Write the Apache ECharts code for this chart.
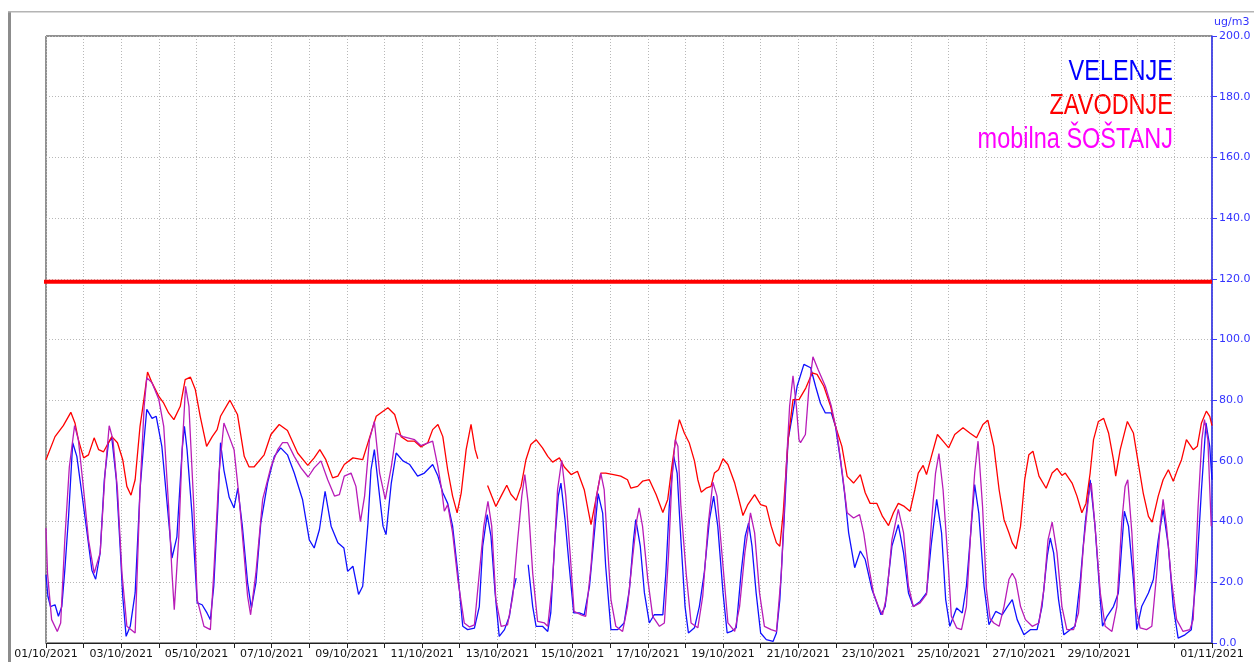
<!DOCTYPE html>
<html>
<head>
<meta charset="utf-8">
<script src="https://cdn.jsdelivr.net/npm/echarts@6/dist/echarts.min.js"></script>
<style>
html,body{margin:0;padding:0;background:#fff;}
#chart{width:1254px;height:662px;}
</style>
</head>
<body>
<div id="chart"></div>
<script>
// x = days since 01/10/2021 00:00, y = ug/m3
const velenje = [[0,22.5],[0.05,15.4],[0.12,12],[0.24,12.6],[0.33,8.8],[0.42,12],[0.5,24],[0.6,41.7],[0.71,66],[0.82,61.5],[0.95,49.5],[1.08,37.4],[1.22,24],[1.32,21],[1.44,29.7],[1.55,53.8],[1.66,66],[1.75,67.6],[1.87,53.8],[1.97,31.9],[2.04,15.4],[2.13,2.2],[2.24,5.5],[2.37,16.5],[2.5,50.5],[2.6,66],[2.68,77],[2.82,74],[2.93,74.7],[3.08,64.8],[3.22,46],[3.35,28],[3.48,35],[3.62,63.7],[3.68,71.4],[3.75,63.7],[3.88,42.8],[4.02,13.2],[4.15,12.6],[4.28,9.9],[4.37,7.7],[4.46,18.7],[4.57,45],
[4.64,66],[4.73,57],[4.87,48],[5.0,44.5],[5.1,51],[5.22,38.5],[5.36,19.8],[5.46,11.5],[5.58,19.8],[5.71,39.5],[5.89,52.7],[6.07,61.5],[6.24,64.3],[6.42,62],[6.6,56],[6.82,47.3],[7.0,34],[7.13,31.3],[7.27,37.4],[7.42,50],[7.58,38.5],[7.76,33],[7.92,31.3],[8.02,23.6],[8.16,25.3],[8.31,16],[8.42,18.7],[8.56,39.5],[8.64,57],[8.73,63.7],[8.82,53.8],[8.96,38.5],[9.04,35.7],[9.18,52.7],[9.31,62.6],[9.49,60],[9.67,58.8],
[9.88,55],[10.06,56],[10.28,58.8],[10.42,55],[10.55,49.5],[10.68,46],[10.81,38.5],[10.95,23],[11.08,5.5],[11.21,4.4],[11.39,4.9],[11.52,12],[11.61,31.9],[11.73,42.3],[11.83,35.2],[11.94,16.5],[12.05,2.2],[12.19,4.4],[12.32,8.8],[12.41,16.5],[12.5,21.4],[12.66,null],[12.82,25.8],[12.94,12],[13.03,5.5],[13.2,5.5],[13.34,3.8],[13.42,9.9],[13.53,34],[13.62,48.4],[13.69,52.7],[13.8,40.6],[13.91,25.3],[14.03,9.9],[14.18,9.9],[14.31,9.3],[14.45,18.7],[14.58,36.3],[14.68,49.2],[14.8,42.8],
[14.88,25.3],[15.02,4.4],[15.2,4.4],[15.37,6.6],[15.51,17.6],[15.62,34],[15.68,40.7],[15.8,31.9],[15.91,16.5],[16.04,6.6],[16.17,9.3],[16.4,9.3],[16.48,23],[16.57,45],[16.69,61.5],[16.78,56],[16.88,34],[16.99,12],[17.08,3.3],[17.24,5],[17.37,12],[17.5,23],[17.64,40.7],[17.75,48.4],[17.86,38.5],[18.0,16.5],[18.11,3.3],[18.22,3.8],[18.35,5],[18.48,23],[18.59,35.2],[18.68,39.6],[18.77,31.9],[18.88,16.5],[19.0,3.3],[19.15,1.1],[19.33,0.5],[19.42,3.3],[19.51,14.3],[19.62,39.6],[19.73,67],
[19.84,74.7],[19.97,84.6],[20.15,91.8],[20.33,90.7],[20.46,84.6],[20.59,79],[20.72,75.8],[20.88,75.8],[20.99,71.4],[21.12,60.4],[21.23,49.5],[21.34,36.3],[21.5,24.8],[21.65,30.3],[21.78,27.5],[21.96,17.6],[22.09,13.2],[22.2,9.3],[22.31,12],[22.49,31.9],[22.66,39],[22.8,29.7],[22.93,16.5],[23.06,12],[23.24,13.7],[23.41,16.5],[23.53,31.9],[23.68,47.3],[23.81,36.3],[23.92,14.3],[24.03,5.5],[24.21,11.5],[24.36,9.9],[24.47,18.7],[24.6,38.5],[24.69,52.2],[24.8,42.8],[24.94,18.7],
[25.07,6],[25.25,10.4],[25.42,9.3],[25.56,12],[25.69,14.3],[25.82,7.7],[26.0,2.7],[26.17,4.4],[26.35,4.4],[26.48,12],[26.62,28.6],[26.7,34.6],[26.79,29.7],[26.92,14.3],[27.06,2.7],[27.23,4.4],[27.36,5.5],[27.5,20.9],[27.63,39.6],[27.76,53.8],[27.89,38.5],[28.03,14.3],[28.09,5.5],[28.21,8.8],[28.38,12],[28.51,16.5],[28.6,31.9],[28.67,43.4],[28.78,38.5],[28.91,20.9],[29.0,4.4],[29.13,12],[29.31,16.5],[29.44,20.9],[29.57,34],[29.7,44],[29.84,31.9],[29.97,12],[30.1,1.6],[30.28,2.7],[30.45,4.4],[30.59,23],[30.72,50.5],[30.84,72.5],[30.94,64.8],[31.0,53.8]];

const zavodnje = [[0,60.4],[0.24,68],[0.46,71.6],[0.66,76],[0.77,72.5],[0.86,67],[1.0,61],[1.13,62],[1.28,67.6],[1.4,63.7],[1.53,63],[1.75,68],[1.9,66],[2.04,60.4],[2.15,51.6],[2.26,48.7],[2.37,53.8],[2.5,71.4],[2.6,80],[2.7,89.3],[2.82,85.7],[3.0,81.3],[3.13,79],[3.26,75.8],[3.4,73.6],[3.57,78],[3.7,86.8],[3.84,87.6],[3.97,83.5],[4.1,74.7],[4.27,64.8],[4.42,68],[4.55,70.3],
[4.64,74.7],[4.89,80],[5.09,75.3],[5.27,61.5],[5.4,58],[5.53,58],[5.8,62],[5.98,68.7],[6.2,72],[6.42,70],[6.69,62.6],[6.96,58.5],[7.13,61],[7.28,63.7],[7.44,60.4],[7.62,54.4],[7.76,55],[7.93,58.8],[8.16,61],[8.42,60.4],[8.6,67.6],[8.78,74.7],[9.09,77.5],[9.27,75.3],[9.44,68],[9.62,66.5],[9.8,66.5],
[9.97,64.6],[10.15,66],[10.28,70.3],[10.42,72],[10.55,68],[10.68,57],[10.81,48.4],[10.93,42.9],[11.04,49.5],[11.17,63.7],[11.3,72],[11.41,63.7],[11.48,60.7],[11.6,null],[11.74,51.9],[11.85,48.4],[11.96,45],[12.1,48.4],[12.25,52],[12.36,49],[12.5,47],[12.63,51.6],[12.76,60.4],[12.89,65.4],[13.03,67],[13.2,64.3],[13.34,61.5],[13.47,59.6],[13.65,61],[13.78,58],[13.96,55.5],[14.13,56.6],[14.31,50.5],[14.49,39],[14.62,47.3],[14.75,56],[14.88,56],
[15.09,55.5],[15.28,55],[15.46,53.8],[15.55,51],[15.73,51.6],[15.86,53.3],[16.04,53.8],[16.22,48.9],[16.4,43],[16.53,47.3],[16.64,58.2],[16.75,68],[16.84,73.6],[16.97,69.2],[17.1,66],[17.24,60],[17.33,53.8],[17.42,49.7],[17.55,51],[17.68,51.6],[17.77,56],[17.88,57.1],[18.0,60.7],[18.13,58.8],[18.31,52.7],[18.4,48.4],[18.53,42],[18.66,45.6],[18.84,48.9],[19.0,45.6],[19.15,45],[19.28,38.5],[19.42,33],[19.51,31.9],[19.6,42.9],[19.73,67],[19.86,80.2],
[20.02,80.2],[20.2,84],[20.37,89],[20.5,88.5],[20.68,84.6],[20.86,78],[20.99,71.4],[21.16,64.8],[21.3,54.9],[21.47,52.7],[21.65,55.5],[21.78,49.5],[21.91,46],[22.09,46],[22.24,41.7],[22.4,38.7],[22.53,42.9],[22.66,46],[22.82,45],[22.97,43.4],[23.1,50.5],[23.19,56],[23.32,58.5],[23.41,55.5],[23.54,61.5],[23.7,68.7],[23.85,66.5],[24.0,64.3],[24.16,68.7],[24.38,70.9],[24.56,69.2],[24.74,67.6],[24.91,72],[25.04,73.4],
[25.2,64.8],[25.34,50.5],[25.47,40.7],[25.6,36.3],[25.69,33],[25.79,31],[25.91,38.5],[26.02,53.8],[26.13,62],[26.24,63.2],[26.4,55],[26.59,51],[26.75,56],[26.88,57.5],[27.01,55.2],[27.1,56],[27.28,52.7],[27.41,48.4],[27.54,42.9],[27.65,46],[27.76,56],[27.85,67],[27.98,73],[28.12,74],[28.25,69.2],[28.38,60.4],[28.44,55],[28.56,63.7],[28.75,73],[28.91,69.2],[29.04,59.3],[29.17,49.5],[29.31,41.7],[29.41,39.8],[29.57,48.4],[29.7,53.8],[29.84,57.1],[29.97,53.3],[30.1,57.7],[30.19,60.4],[30.32,67],[30.5,63.7],[30.61,64.8],[30.72,72.5],[30.85,76.4],[30.94,74.7],[31.0,71.6]];

const mobilna = [[0,37.9],[0.04,23],[0.15,7.7],[0.3,3.8],[0.39,6.6],[0.5,34],[0.62,58],[0.76,71.6],[0.86,67],[1.0,50.5],[1.13,34],[1.28,23],[1.44,29.7],[1.57,56],[1.68,71.6],[1.78,67],[1.9,50.5],[2.02,23],[2.15,5.5],[2.37,3.3],[2.5,50.5],[2.61,78],[2.68,87.4],[2.82,85.7],[3.0,80.2],[3.13,71.4],[3.26,45],[3.35,23],[3.41,11],[3.53,35],[3.62,63.7],[3.71,84.6],[3.8,78],[3.93,45],[4.02,14.3],[4.2,5.5],[4.37,4.4],[4.46,23],[4.6,56],
[4.73,72.5],[4.87,68],[5.0,63.7],[5.13,48.4],[5.27,28.6],[5.36,15.4],[5.44,9.3],[5.58,23],[5.76,47.3],[5.98,58],[6.16,63.7],[6.29,66],[6.42,66],[6.6,61.5],[6.78,57.7],[6.97,54.7],[7.13,57.7],[7.31,60],[7.49,53.8],[7.67,48.4],[7.8,48.9],[7.93,55],[8.11,56],[8.24,51.6],[8.36,40],[8.47,48.4],[8.6,67],[8.73,73],[8.87,56],[9.02,47.3],[9.18,58],[9.31,69.2],[9.49,68],[9.8,67],
[9.97,65],[10.28,66.5],[10.42,58],[10.52,50.5],[10.59,43.4],[10.68,45.6],[10.81,36.3],[10.95,20.9],[11.12,6.6],[11.26,5.3],[11.39,6],[11.52,23],[11.64,38.5],[11.75,46.7],[11.85,38.5],[11.96,14.3],[12.1,5.5],[12.27,6],[12.41,15.4],[12.54,34],[12.65,48.4],[12.73,55.5],[12.82,46],[12.94,23],[13.07,7.1],[13.25,6.6],[13.34,5.5],[13.47,20.9],[13.6,50.5],[13.71,60.2],[13.82,48.4],[13.94,28.6],[14.04,10.4],[14.22,9.3],[14.35,8.8],[14.49,25.3],[14.62,47.3],[14.75,56],[14.84,50.5],[14.93,31.9],[15.02,14.3],
[15.15,5.5],[15.33,3.8],[15.46,12],[15.6,28.6],[15.71,40.7],[15.77,44.5],[15.86,38.5],[16.0,20.9],[16.13,8.8],[16.31,5.5],[16.44,6.6],[16.55,28.6],[16.64,53.8],[16.73,67],[16.8,64.8],[16.88,45],[17.02,23],[17.15,6.6],[17.33,5],[17.46,15.4],[17.6,38.5],[17.73,53],[17.84,48.4],[18.0,25.3],[18.13,6.6],[18.31,3.8],[18.44,12],[18.58,29.7],[18.73,42.9],[18.84,36.3],[18.97,16.5],[19.1,5.5],[19.28,4.4],[19.42,3.8],[19.55,23],[19.68,58],[19.77,78],[19.86,88],[19.95,78],[20.02,67],[20.06,66],
[20.19,68.7],[20.28,83.5],[20.39,94.3],[20.53,90],[20.72,84.6],[20.88,78],[21.03,69.2],[21.16,57.1],[21.3,42.9],[21.47,41.2],[21.63,42.3],[21.74,36.3],[21.87,25.3],[22.0,16.5],[22.13,12],[22.24,9.3],[22.35,15.4],[22.49,34],[22.66,44],[22.8,36.3],[22.93,18.7],[23.06,12],[23.24,13.2],[23.41,16],[23.54,39.6],[23.65,56],[23.74,62.4],[23.85,50.5],[23.99,25.3],[24.07,8.8],[24.21,5],[24.34,4.4],[24.47,12],[24.6,39.6],[24.69,56],[24.78,66.5],[24.9,45],[25.0,18],[25.1,8],
[25.2,6.6],[25.34,5.5],[25.47,12],[25.6,20.9],[25.69,23],[25.78,20.9],[25.91,12],[26.04,7.7],[26.22,5.5],[26.4,6.6],[26.53,17.6],[26.64,34],[26.75,39.8],[26.88,29.7],[27.01,12],[27.14,4.4],[27.32,4.4],[27.45,9.9],[27.58,31.9],[27.72,48.4],[27.79,52.7],[27.89,38.5],[28.03,16.5],[28.16,5.5],[28.34,3.8],[28.47,12],[28.6,39.6],[28.69,51.6],[28.76,53.8],[28.87,36.3],[28.97,12],[29.09,5],[29.26,4.4],[29.4,5.5],[29.53,23],[29.62,38.5],[29.7,47.3],[29.79,38.5],[29.92,20.9],[30.06,7.7],[30.23,3.8],[30.41,4.4],[30.5,7.7],[30.63,45],[30.73,67],[30.8,73.6],[30.89,67],[30.98,38.5]];

const thresholdValue = 119;
const thresholdDays = [-0.24, 31];
const seriesNames = ['VELENJE', 'ZAVODNJE', 'mobilna ŠOŠTANJ'];
const seriesColors = ['#1010ff', '#ff0000', '#b81cb8'];
const legendColors = ['#0000ff', '#ff0000', '#ff00ff'];
const unitLabel = 'ug/m3';
const startDate = [2021, 9, 1];
const lastDay = 31;

function pad(n){ return (n < 10 ? '0' : '') + n; }
function dayLabel(d){
  const dt = new Date(startDate[0], startDate[1], startDate[2] + d);
  return pad(dt.getDate()) + '/' + pad(dt.getMonth() + 1) + '/' + dt.getFullYear();
}

const chart = echarts.init(document.getElementById('chart'), null, {renderer: 'canvas'});
const font = '"DejaVu Sans", Verdana, sans-serif';
const legendFont = '29px "Liberation Sans", Arial, sans-serif';

chart.setOption({
  animation: false,
  backgroundColor: '#ffffff',
  grid: {left: 46, right: 42, top: 36, bottom: 19, show: true, borderColor: '#222', borderWidth: 1, backgroundColor: 'transparent'},
  xAxis: {
    type: 'value', min: 0, max: lastDay, interval: 1,
    axisLine: {show: true, onZero: false, lineStyle: {color: '#222', width: 1}},
    axisTick: {show: true, length: 5, lineStyle: {color: '#222'}},
    axisLabel: {
      color: '#111', fontFamily: font, fontSize: 11, margin: 6,
      showMinLabel: true, showMaxLabel: true, hideOverlap: false,
      formatter: function(v){
        const d = Math.round(v);
        if ((d % 2 === 0 && d <= 28) || d === lastDay) return dayLabel(d);
        return '';
      }
    },
    splitLine: {show: true, lineStyle: {color: '#b8b8b8', type: [1, 2], width: 1}}
  },
  yAxis: {
    type: 'value', position: 'right', min: 0, max: 200, interval: 20,
    name: unitLabel, nameLocation: 'end', nameGap: 8,
    nameTextStyle: {color: '#3333ff', fontFamily: font, fontSize: 11, align: 'left', padding: [0, 0, 0, 2]},
    axisLine: {show: true, onZero: false, lineStyle: {color: '#3a3aff', width: 1.5}},
    axisTick: {show: true, length: 5, lineStyle: {color: '#3a3aff'}},
    axisLabel: {color: '#3333ff', fontFamily: font, fontSize: 11, margin: 7,
      formatter: function(v){ return v.toFixed(1); }},
    splitLine: {show: true, lineStyle: {color: '#b8b8b8', type: [1, 2], width: 1}}
  },
  graphic: [
    {type: 'rect', shape: {x: 8, y: 11, width: 3, height: 651}, style: {fill: '#8c8c8c'}, silent: true},
    {type: 'rect', shape: {x: 8, y: 11, width: 1246, height: 1.5}, style: {fill: '#b4b4b4'}, silent: true},
    {type: 'text', x: 1173, y: 72, scaleX: 0.81, silent: true,
      style: {text: seriesNames[0], fill: legendColors[0], font: legendFont, align: 'right', verticalAlign: 'middle'}},
    {type: 'text', x: 1173, y: 106, scaleX: 0.81, silent: true,
      style: {text: seriesNames[1], fill: legendColors[1], font: legendFont, align: 'right', verticalAlign: 'middle'}},
    {type: 'text', x: 1173, y: 140, scaleX: 0.81, silent: true,
      style: {text: seriesNames[2], fill: legendColors[2], font: legendFont, align: 'right', verticalAlign: 'middle'}}
  ],
  series: [
    {name: 'limit', type: 'line', data: [[thresholdDays[0], thresholdValue], [thresholdDays[1], thresholdValue]],
      clip: false, symbol: 'none', silent: true, z: 1,
      lineStyle: {color: '#ff0000', width: 4}},
    {name: seriesNames[0], type: 'line', data: velenje, symbol: 'none', connectNulls: false, z: 3,
      lineStyle: {color: seriesColors[0], width: 1.3}},
    {name: seriesNames[1], type: 'line', data: zavodnje, symbol: 'none', connectNulls: false, z: 3,
      lineStyle: {color: seriesColors[1], width: 1.3}},
    {name: seriesNames[2], type: 'line', data: mobilna, symbol: 'none', connectNulls: false, z: 3,
      lineStyle: {color: seriesColors[2], width: 1.3}}
  ]
});
</script>
</body>
</html>
